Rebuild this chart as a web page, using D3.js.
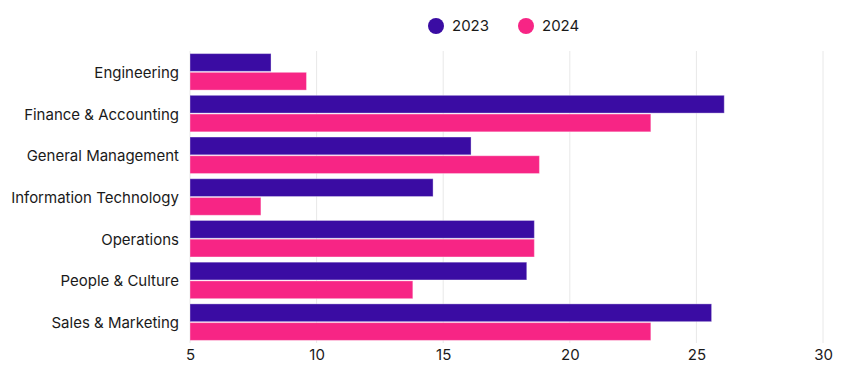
<!DOCTYPE html>
<html>
<head>
<meta charset="utf-8">
<script src="https://cdn.jsdelivr.net/npm/d3@7"></script>
<style>
  body { margin: 0; background: #fff; font-family: Inter, "Noto Sans", sans-serif; }
</style>
</head>
<body>
<script>
// Chart data
var categories = ["Engineering", "Finance & Accounting", "General Management",
  "Information Technology", "Operations", "People & Culture", "Sales & Marketing"];
var seriesNames = ["2023", "2024"];
var values2023 = [8.2, 26.1, 16.1, 14.6, 18.6, 18.3, 25.6];
var values2024 = [9.6, 23.2, 18.8, 7.8, 18.6, 13.8, 23.2];
var xTicks = [5, 10, 15, 20, 25, 30];

var colors = { "2023": "#3a0ca3", "2024": "#f72585" };

var width = 844,
  height = 374,
  margin = { top: 51, right: 21, bottom: 31, left: 190 };

var svg = d3.select("body")
  .append("svg")
  .attr("width", width)
  .attr("height", height);

var x = d3.scaleLinear()
  .domain([5, 30])
  .range([margin.left, width - margin.right]);

var y = d3.scaleBand()
  .domain(categories)
  .range([margin.top, height - margin.bottom])
  .paddingInner(0.08)
  .paddingOuter(0.04);

var ySub = d3.scaleBand()
  .domain(seriesNames)
  .range([0, y.bandwidth()])
  .padding(0.05);

// Grid lines
svg.append("g")
  .selectAll("line")
  .data(xTicks)
  .enter()
  .append("line")
  .attr("x1", d => x(d))
  .attr("x2", d => x(d))
  .attr("y1", margin.top)
  .attr("y2", height - margin.bottom)
  .attr("stroke", "#e8e8e8")
  .attr("stroke-width", 1);

// Bars
var rows = categories.map(function(c, i) {
  return { category: c, values: [
    { key: "2023", value: values2023[i] },
    { key: "2024", value: values2024[i] }
  ] };
});

var groups = svg.append("g")
  .selectAll("g")
  .data(rows)
  .enter()
  .append("g")
  .attr("transform", d => "translate(0," + y(d.category) + ")");

groups.selectAll("rect")
  .data(d => d.values)
  .enter()
  .append("rect")
  .attr("x", x(5))
  .attr("y", d => ySub(d.key))
  .attr("width", d => x(d.value) - x(5))
  .attr("height", ySub.bandwidth())
  .attr("fill", d => colors[d.key])
  .attr("stroke", "#ffffff")
  .attr("stroke-opacity", 0.35)
  .attr("stroke-width", 1);

// Y axis labels
var yAxis = svg.append("g")
  .attr("transform", "translate(" + margin.left + ",0)")
  .call(d3.axisLeft(y).tickSize(0).tickPadding(11));
yAxis.select(".domain").remove();
yAxis.selectAll("text")
  .attr("font-family", "Inter, 'Noto Sans', sans-serif")
  .attr("font-size", 15)
  .attr("dy", "0.4em")
  .attr("fill", "#1a1a1a");

// X axis labels
var xAxis = svg.append("g")
  .attr("transform", "translate(0," + (height - margin.bottom) + ")")
  .call(d3.axisBottom(x).tickValues(xTicks).tickSize(0).tickPadding(6));
xAxis.select(".domain").remove();
xAxis.selectAll("text")
  .attr("font-family", "Inter, 'Noto Sans', sans-serif")
  .attr("font-size", 15)
  .attr("fill", "#1a1a1a");

// Legend
var legend = svg.append("g")
  .selectAll("g")
  .data(seriesNames)
  .enter()
  .append("g")
  .attr("transform", (d, i) => "translate(" + (436 + i * 90) + ",26)");

legend.append("circle")
  .attr("r", 8)
  .attr("fill", d => colors[d]);

legend.append("text")
  .attr("x", 16)
  .attr("dy", "0.35em")
  .attr("font-family", "Inter, 'Noto Sans', sans-serif")
  .attr("font-size", 15)
  .attr("fill", "#1a1a1a")
  .text(d => d);
</script>
</body>
</html>
